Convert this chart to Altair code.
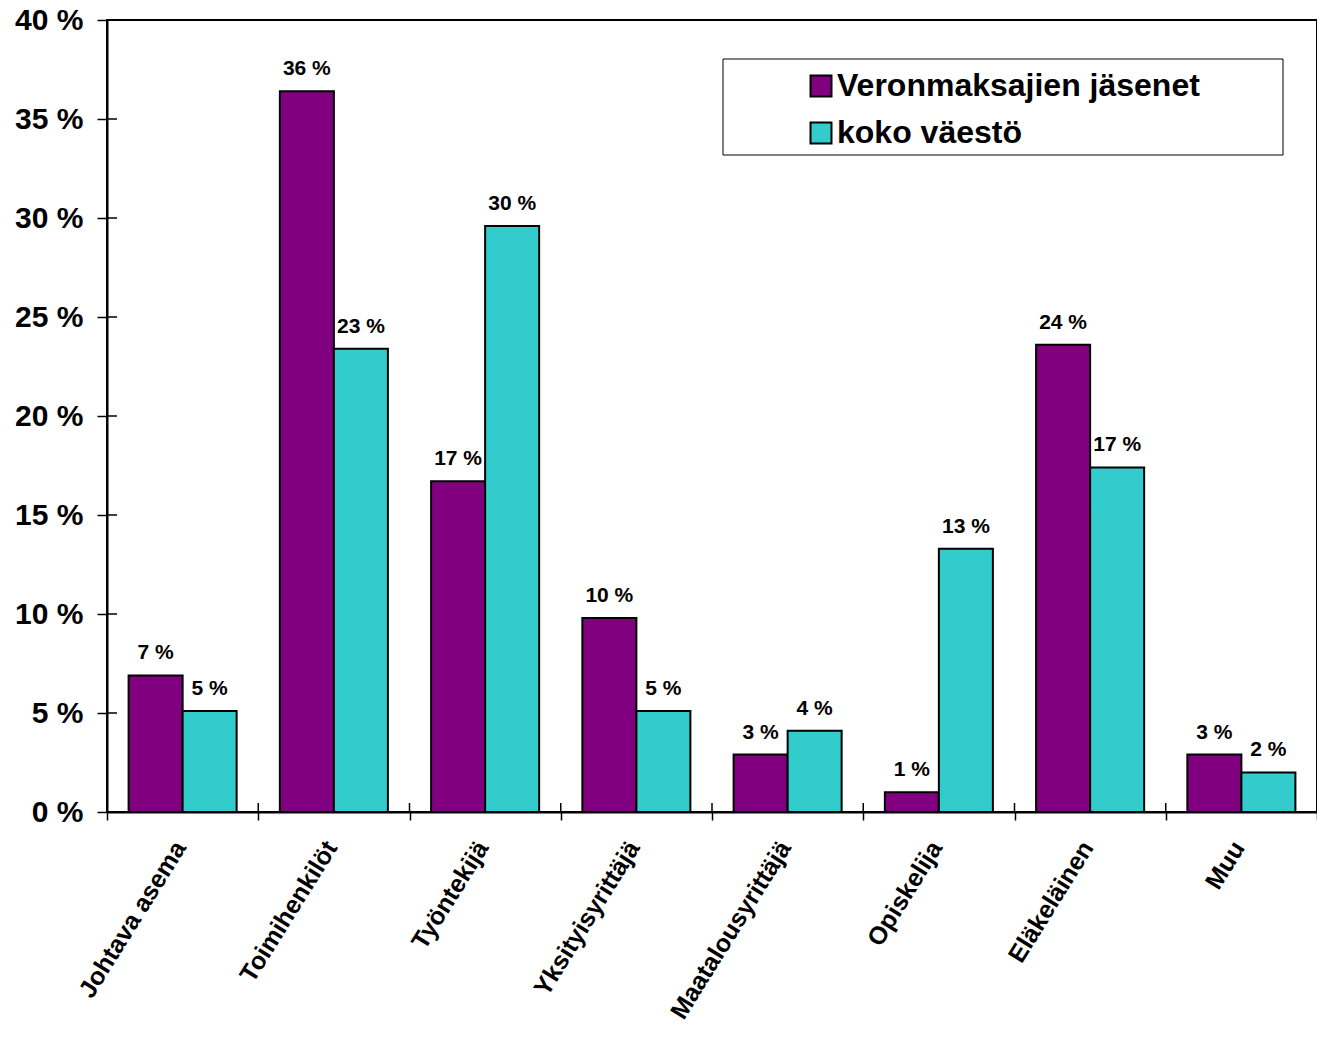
import altair as alt
import pandas as pd

categories = ["Johtava asema", "Toimihenkilöt", "Työntekijä", "Yksityisyrittäjä",
              "Maatalousyrittäjä", "Opiskelija", "Eläkeläinen", "Muu"]
series_names = ["Veronmaksajien jäsenet", "koko väestö"]
veronmaksajat = [6.9, 36.4, 16.7, 9.8, 2.9, 1.0, 23.6, 2.9]
koko_vaesto = [5.1, 23.4, 29.6, 5.1, 4.1, 13.3, 17.4, 2.0]
y_ticks = [0, 5, 10, 15, 20, 25, 30, 35, 40]
colors = ["#800080", "#33CCCC"]

rows = []
for c, a, b in zip(categories, veronmaksajat, koko_vaesto):
    rows.append({"cat": c, "series": series_names[0], "value": a})
    rows.append({"cat": c, "series": series_names[1], "value": b})
df = pd.DataFrame(rows)

FONT = "Liberation Sans"

x_enc = alt.X("cat:N", sort=categories, title=None,
              scale=alt.Scale(paddingInner=0, paddingOuter=0),
              axis=alt.Axis(labelAngle=-58, labelAlign="right", labelBaseline="middle",
                            labelFontSize=25, labelFontWeight="bold", labelFont=FONT,
                            labelColor="black", labelPadding=23, labelLimit=500,
                            labelOffset=-3, tickBand="extent",
                            tickSize=8, tickColor="black", tickWidth=1.5,
                            domainColor="black", domainWidth=2))
y_enc = alt.Y("value:Q", title=None,
              scale=alt.Scale(domain=[0, 40], nice=False),
              axis=alt.Axis(values=y_ticks, labelExpr="datum.value + ' %'",
                            labelFontSize=30, labelFontWeight="bold", labelFont=FONT,
                            labelColor="black", labelPadding=14, tickSize=10,
                            tickColor="black", tickWidth=1.5, grid=False,
                            domainColor="black", domainWidth=2))
xoff = alt.XOffset("series:N", sort=series_names,
                   scale=alt.Scale(paddingOuter=0.4, paddingInner=0))
color_enc = alt.Color("series:N", sort=series_names,
                      scale=alt.Scale(domain=series_names, range=colors),
                      legend=alt.Legend(title=None, orient="none", legendX=698, legendY=50,
                                        symbolType="square", symbolSize=440,
                                        symbolStrokeColor="black", symbolStrokeWidth=2,
                                        symbolOpacity=1,
                                        labelFontSize=32, labelFontWeight="bold",
                                        labelFont=FONT, labelColor="black",
                                        labelOffset=0, rowPadding=15, padding=0,
                                        labelLimit=600))

bars = alt.Chart(df).mark_bar(stroke="black", strokeWidth=2).encode(
    x=x_enc, y=y_enc, xOffset=xoff, color=color_enc)

labels = alt.Chart(df).transform_calculate(
    label="format(datum.value, '.0f') + ' %'"
).mark_text(baseline="alphabetic", dy=-16, fontSize=21, fontWeight="bold",
            font=FONT, color="black").encode(
    x=alt.X("cat:N", sort=categories), xOffset=xoff, y="value:Q", text="label:N")

tick_df = pd.DataFrame({"value": y_ticks})
inner_y = alt.Chart(tick_df).mark_rule(color="black", strokeWidth=1.5).encode(
    y="value:Q", x=alt.value(0), x2=alt.value(10))

cat_df = pd.DataFrame({"cat": categories})
inner_x = alt.Chart(cat_df).mark_rule(color="black", strokeWidth=1.5).encode(
    x=alt.X("cat:N", sort=categories, bandPosition=0),
    y=alt.value(783), y2=alt.value(792))

legend_box = alt.Chart(cat_df.head(1)).mark_rect(
    fill="white", stroke="black", strokeWidth=1).encode(
    x=alt.value(616), x2=alt.value(1176), y=alt.value(39), y2=alt.value(135))

chart = alt.layer(bars, labels, inner_y, inner_x, legend_box).properties(
    width=1210, height=792,
    background="white",
    autosize=alt.AutoSizeParams(type="none"),
    padding={"left": 99, "top": 12, "right": 0, "bottom": 213},
).configure_view(stroke="black", strokeWidth=2)

chart.save("out.html", embed_options={"renderer": "svg", "actions": False})
